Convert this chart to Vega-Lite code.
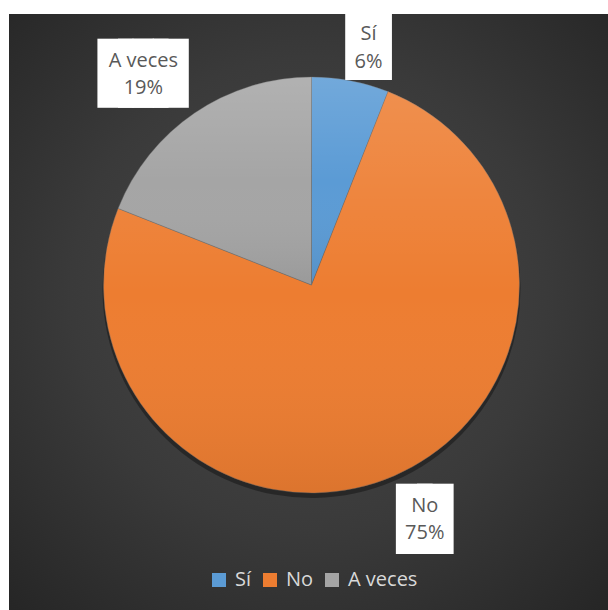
{
  "$schema": "https://vega.github.io/schema/vega-lite/v6.json",
  "width": 599,
  "height": 596,
  "autosize": {"type": "none"},
  "padding": {"left": 9, "top": 14, "right": 0, "bottom": 0},
  "background": "#ffffff",
  "view": {
    "stroke": null,
    "fill": {
      "gradient": "radial",
      "x1": 0.5, "y1": 0.47, "r1": 0,
      "x2": 0.5, "y2": 0.47, "r2": 0.72,
      "stops": [
        {"offset": 0, "color": "#4a4a4a"},
        {"offset": 0.55, "color": "#3a3a3a"},
        {"offset": 1, "color": "#262626"}
      ]
    }
  },
  "data": {
    "values": [
      {"cat": "Sí", "share": 6, "idx": 1},
      {"cat": "No", "share": 75, "idx": 2},
      {"cat": "A veces", "share": 19, "idx": 3}
    ]
  },
  "transform": [
    {"calculate": "datum.cat + '\\n' + datum.share + '%'", "as": "label"}
  ],
  "encoding": {
    "theta": {"field": "share", "type": "quantitative", "stack": true},
    "order": {"field": "idx", "type": "quantitative"}
  },
  "layer": [
    {
      "mark": {"type": "arc", "radius": 209, "xOffset": 3, "yOffset": -23, "fill": "#000000", "opacity": 0.35},
      "encoding": {"detail": {"field": "cat", "type": "nominal"}}
    },
    {
      "mark": {"type": "arc", "radius": 208, "xOffset": 3, "yOffset": -27, "stroke": "#6a6a6a", "strokeWidth": 0.4},
      "encoding": {
        "color": {
          "field": "cat",
          "type": "nominal",
          "scale": {"domain": ["Sí", "No", "A veces"], "range": ["#5b9bd5", "#ed7d31", "#a5a5a5"]},
          "legend": {
            "orient": "none",
            "legendX": 200,
            "legendY": 556,
            "direction": "horizontal",
            "title": null,
            "symbolType": "square",
            "symbolSize": 196,
            "symbolStrokeWidth": 0,
            "symbolOpacity": 1,
            "labelFont": "Open Sans",
            "labelFontSize": 20,
            "labelColor": "#d9d9d9",
            "labelOffset": 6,
            "columnPadding": 8,
            "gridAlign": "none",
            "padding": 0
          }
        }
      }
    },
    {
      "mark": {
        "type": "arc", "radius": 208, "xOffset": 3, "yOffset": -27,
        "fill": {
          "gradient": "linear", "x1": 0, "y1": 0, "x2": 0, "y2": 1,
          "stops": [
            {"offset": 0, "color": "rgba(255,255,255,0.14)"},
            {"offset": 0.5, "color": "rgba(255,255,255,0.0)"},
            {"offset": 1, "color": "rgba(0,0,0,0.07)"}
          ]
        }
      },
      "encoding": {"detail": {"field": "cat", "type": "nominal"}}
    },
    {
      "mark": {"type": "text", "text": "█", "radius": 240, "dx": 6.4, "dy": 0, "xOffset": 3, "yOffset": -27, "font": "DejaVu Sans Mono", "fontSize": 57, "color": "#ffffff", "baseline": "middle", "align": "center"},
      "encoding": {"detail": {"field": "cat", "type": "nominal"}, "opacity": {"condition": {"test": "datum.cat === 'Sí'", "value": 1}, "value": 0}}
    },
    {
      "mark": {"type": "text", "text": "█", "radius": 240, "dx": 17.6, "dy": 0, "xOffset": 3, "yOffset": -27, "font": "DejaVu Sans Mono", "fontSize": 57, "color": "#ffffff", "baseline": "middle", "align": "center"},
      "encoding": {"detail": {"field": "cat", "type": "nominal"}, "opacity": {"condition": {"test": "datum.cat === 'Sí'", "value": 1}, "value": 0}}
    },
    {
      "mark": {"type": "text", "radius": 240, "dx": 12, "dy": -15, "xOffset": 3, "yOffset": -27, "font": "Open Sans", "fontSize": 20, "color": "#595959", "lineBreak": "\n", "lineHeight": 27.5, "baseline": "middle", "align": "center"},
      "encoding": {"detail": {"field": "cat", "type": "nominal"}, "text": {"field": "label"}, "opacity": {"condition": {"test": "datum.cat === 'Sí'", "value": 1}, "value": 0}}
    },
    {
      "mark": {"type": "text", "text": "██", "radius": 260, "dx": -32.2, "dy": 6, "xOffset": 3, "yOffset": -27, "font": "DejaVu Sans Mono", "fontSize": 58, "color": "#ffffff", "baseline": "middle", "align": "center"},
      "encoding": {"detail": {"field": "cat", "type": "nominal"}, "opacity": {"condition": {"test": "datum.cat === 'A veces'", "value": 1}, "value": 0}}
    },
    {
      "mark": {"type": "text", "text": "██", "radius": 260, "dx": -11.8, "dy": 6, "xOffset": 3, "yOffset": -27, "font": "DejaVu Sans Mono", "fontSize": 58, "color": "#ffffff", "baseline": "middle", "align": "center"},
      "encoding": {"detail": {"field": "cat", "type": "nominal"}, "opacity": {"condition": {"test": "datum.cat === 'A veces'", "value": 1}, "value": 0}}
    },
    {
      "mark": {"type": "text", "radius": 260, "dx": -22, "dy": -9, "xOffset": 3, "yOffset": -27, "font": "Open Sans", "fontSize": 20, "color": "#595959", "lineBreak": "\n", "lineHeight": 27.5, "baseline": "middle", "align": "center"},
      "encoding": {"detail": {"field": "cat", "type": "nominal"}, "text": {"field": "label"}, "opacity": {"condition": {"test": "datum.cat === 'A veces'", "value": 1}, "value": 0}}
    },
    {
      "mark": {"type": "text", "text": "█", "radius": 250, "dx": 3.5, "dy": 7, "xOffset": 3, "yOffset": -27, "font": "DejaVu Sans Mono", "fontSize": 59, "color": "#ffffff", "baseline": "middle", "align": "center"},
      "encoding": {"detail": {"field": "cat", "type": "nominal"}, "opacity": {"condition": {"test": "datum.cat === 'No'", "value": 1}, "value": 0}}
    },
    {
      "mark": {"type": "text", "text": "█", "radius": 250, "dx": 24.5, "dy": 7, "xOffset": 3, "yOffset": -27, "font": "DejaVu Sans Mono", "fontSize": 59, "color": "#ffffff", "baseline": "middle", "align": "center"},
      "encoding": {"detail": {"field": "cat", "type": "nominal"}, "opacity": {"condition": {"test": "datum.cat === 'No'", "value": 1}, "value": 0}}
    },
    {
      "mark": {"type": "text", "radius": 250, "dx": 14, "dy": -8.5, "xOffset": 3, "yOffset": -27, "font": "Open Sans", "fontSize": 20, "color": "#595959", "lineBreak": "\n", "lineHeight": 27.5, "baseline": "middle", "align": "center"},
      "encoding": {"detail": {"field": "cat", "type": "nominal"}, "text": {"field": "label"}, "opacity": {"condition": {"test": "datum.cat === 'No'", "value": 1}, "value": 0}}
    }
  ]
}
